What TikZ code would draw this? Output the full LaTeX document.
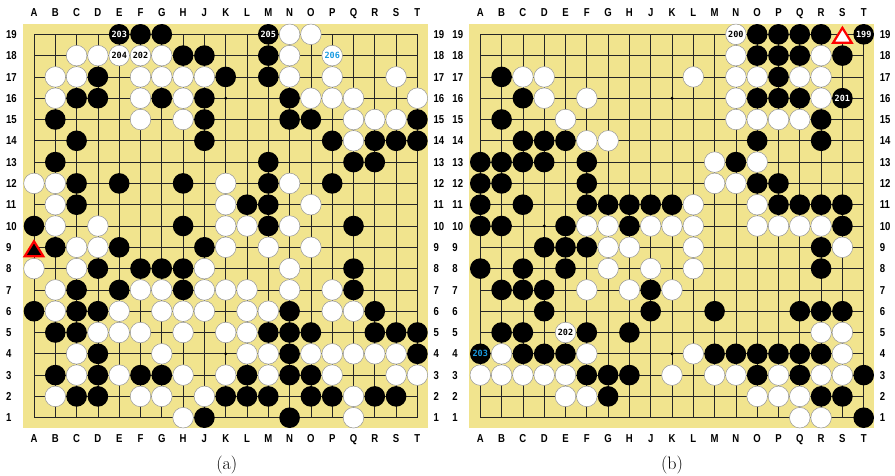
\documentclass[tikz,border=0pt]{standalone}
\usepackage{fontspec}
\newfontfamily\coordfont{Liberation Sans}[FakeStretch=0.83]
\newfontfamily\stonefont{DejaVu Sans Mono}
\definecolor{boardyellow}{RGB}{241,228,142}
\definecolor{numcyan}{RGB}{25,155,225}
\definecolor{stoneedge}{RGB}{150,150,150}
\def\gocolA{0}\def\gocolB{1}\def\gocolC{2}\def\gocolD{3}\def\gocolE{4}
\def\gocolF{5}\def\gocolG{6}\def\gocolH{7}\def\gocolJ{8}\def\gocolK{9}
\def\gocolL{10}\def\gocolM{11}\def\gocolN{12}\def\gocolO{13}\def\gocolP{14}
\def\gocolQ{15}\def\gocolR{16}\def\gocolS{17}\def\gocolT{18}
\newcommand\gc[1]{\csname gocol#1\endcsname}
\tikzset{
 blackstone/.style={fill=black},
 whitestone/.style={fill=white, draw=stoneedge, line width=0.5pt},
 gridline/.style={draw=black!85, line width=0.8pt, line cap=square},
 coordlabel/.style={font=\coordfont\bfseries\fontsize{11.5}{12}\selectfont, inner sep=0pt, text height=8.2pt, text depth=0pt},
 stonenum/.style={font=\stonefont\bfseries\fontsize{8.5}{9}\selectfont, inner sep=0pt},
 captionlabel/.style={font=\fontsize{18}{20}\selectfont, inner sep=0pt},
 marktri/.style={draw=red, line width=2.2pt, line join=miter},
}
\newcommand\drawboard[1]{%
 \fill[boardyellow] (-0.52,-0.48) rectangle (18.5,18.48);
 \foreach \i in {0,...,18} {
   \draw[gridline] (\i,0) -- (\i,18);
   \draw[gridline] (0,\i) -- (18,\i);
 }
 \foreach \sx in {3,9,15} \foreach \sy in {3,9,15} \fill[black] (\sx,\sy) circle (1.6pt);
 \foreach \col in {A,B,C,D,E,F,G,H,J,K,L,M,N,O,P,Q,R,S,T} {
   \node[coordlabel] (#1-top-\col) at (\gc{\col},-1.02) {\col};
   \node[coordlabel] (#1-bot-\col) at (\gc{\col},18.95) {\col};
 }
 \foreach \row in {1,...,19} {
   \node[coordlabel, anchor=west] (#1-left-\row) at (-1.315,19-\row) {\row};
   \node[coordlabel, anchor=west] (#1-right-\row) at (18.75,19-\row) {\row};
 }
}
\begin{document}
\begin{tikzpicture}[x=1pt,y=-1pt]
\useasboundingbox (0,0) rectangle (895,475);
% ---------------- board (a)
\begin{scope}[shift={(34,34.3)}, x=21.3pt, y=-21.3pt]
\drawboard{a}
\foreach \col/\row in {E/19,F/19,G/19,M/19,H/18,J/18,M/18,D/17,K/17,M/17,C/16,D/16,G/16,J/16,N/16,B/15,J/15,N/15,O/15,T/15,C/14,J/14,P/14,R/14,S/14,T/14,B/13,M/13,Q/13,R/13,C/12,E/12,H/12,M/12,P/12,C/11,L/11,M/11,A/10,H/10,M/10,Q/10,B/9,E/9,J/9,D/8,F/8,G/8,H/8,Q/8,C/7,E/7,H/7,Q/7,A/6,C/6,D/6,N/6,R/6,B/5,C/5,M/5,N/5,O/5,R/5,S/5,T/5,D/4,N/4,T/4,B/3,D/3,F/3,G/3,L/3,N/3,O/3,C/2,D/2,K/2,L/2,M/2,O/2,P/2,R/2,S/2,J/1,N/1}
  \fill[blackstone] (\gc{\col},19-\row) circle (10.3pt);
\foreach \col/\row in {N/19,O/19,C/18,D/18,E/18,F/18,G/18,N/18,P/18,B/17,C/17,F/17,G/17,H/17,J/17,N/17,P/17,S/17,B/16,F/16,H/16,O/16,P/16,Q/16,T/16,F/15,H/15,Q/15,R/15,S/15,Q/14,A/12,B/12,K/12,N/12,B/11,K/11,O/11,B/10,D/10,K/10,L/10,N/10,C/9,D/9,K/9,M/9,O/9,A/8,C/8,J/8,N/8,B/7,F/7,G/7,J/7,K/7,L/7,N/7,P/7,B/6,E/6,G/6,H/6,J/6,L/6,M/6,P/6,Q/6,D/5,E/5,F/5,H/5,K/5,L/5,C/4,G/4,L/4,M/4,O/4,P/4,Q/4,R/4,S/4,C/3,E/3,H/3,K/3,M/3,P/3,S/3,T/3,B/2,F/2,G/2,J/2,Q/2,H/1,Q/1}
  \filldraw[whitestone] (\gc{\col},19-\row) circle (10.3pt);
\node[stonenum, text=white] (a-n203) at (\gc{E},0) {203};
\node[stonenum, text=white] (a-n205) at (\gc{M},0) {205};
\node[stonenum, text=black] (a-n204) at (\gc{E},1) {204};
\node[stonenum, text=black] (a-n202) at (\gc{F},1) {202};
\node[stonenum, text=numcyan] (a-n206) at (\gc{P},1) {206};
\filldraw[marktri, fill=black] (\gc{A},10) ++(0pt,6pt) -- ++(9.3pt,-15pt) -- ++(-18.6pt,0pt) -- cycle;
\node[captionlabel] (a-caption) at (9.05,20.2) {(a)};
\end{scope}
% ---------------- board (b)
\begin{scope}[shift={(480.3,34.3)}, x=21.3pt, y=-21.3pt]
\drawboard{b}
\foreach \col/\row in {O/19,P/19,Q/19,R/19,T/19,O/18,P/18,Q/18,S/18,B/17,P/17,C/16,O/16,P/16,Q/16,S/16,B/15,R/15,C/14,D/14,E/14,O/14,R/14,A/13,B/13,C/13,D/13,F/13,N/13,A/12,B/12,F/12,O/12,P/12,A/11,C/11,F/11,G/11,H/11,J/11,K/11,P/11,Q/11,R/11,S/11,A/10,B/10,E/10,H/10,S/10,D/9,E/9,F/9,R/9,A/8,C/8,E/8,R/8,B/7,C/7,D/7,J/7,D/6,J/6,M/6,Q/6,R/6,S/6,B/5,C/5,F/5,H/5,A/4,C/4,D/4,E/4,M/4,N/4,O/4,P/4,Q/4,R/4,F/3,G/3,H/3,O/3,Q/3,T/3,G/2,R/2,S/2,T/1}
  \fill[blackstone] (\gc{\col},19-\row) circle (10.3pt);
\foreach \col/\row in {N/19,N/18,R/18,C/17,D/17,L/17,N/17,O/17,Q/17,R/17,D/16,F/16,N/16,R/16,E/15,N/15,O/15,P/15,Q/15,F/14,G/14,M/13,O/13,M/12,N/12,L/11,O/11,F/10,G/10,J/10,K/10,L/10,O/10,P/10,Q/10,R/10,G/9,H/9,L/9,S/9,G/8,J/8,L/8,F/7,H/7,K/7,E/5,R/5,S/5,B/4,F/4,L/4,S/4,A/3,B/3,C/3,D/3,E/3,K/3,M/3,N/3,P/3,R/3,S/3,E/2,F/2,O/2,P/2,Q/2,Q/1,R/1}
  \filldraw[whitestone] (\gc{\col},19-\row) circle (10.3pt);
\node[stonenum, text=black] (b-n200) at (\gc{N},0) {200};
\node[stonenum, text=white] (b-n199) at (\gc{T},0) {199};
\node[stonenum, text=white] (b-n201) at (\gc{S},3) {201};
\node[stonenum, text=black] (b-n202) at (\gc{E},14) {202};
\node[stonenum, text=numcyan] (b-n203) at (\gc{A},15) {203};
\filldraw[marktri, fill=white] (\gc{S},0) ++(0pt,6.5pt) -- ++(9.3pt,-15pt) -- ++(-18.6pt,0pt) -- cycle;
\node[captionlabel] (b-caption) at (9.0,20.2) {(b)};
\end{scope}
\end{tikzpicture}
\end{document}
